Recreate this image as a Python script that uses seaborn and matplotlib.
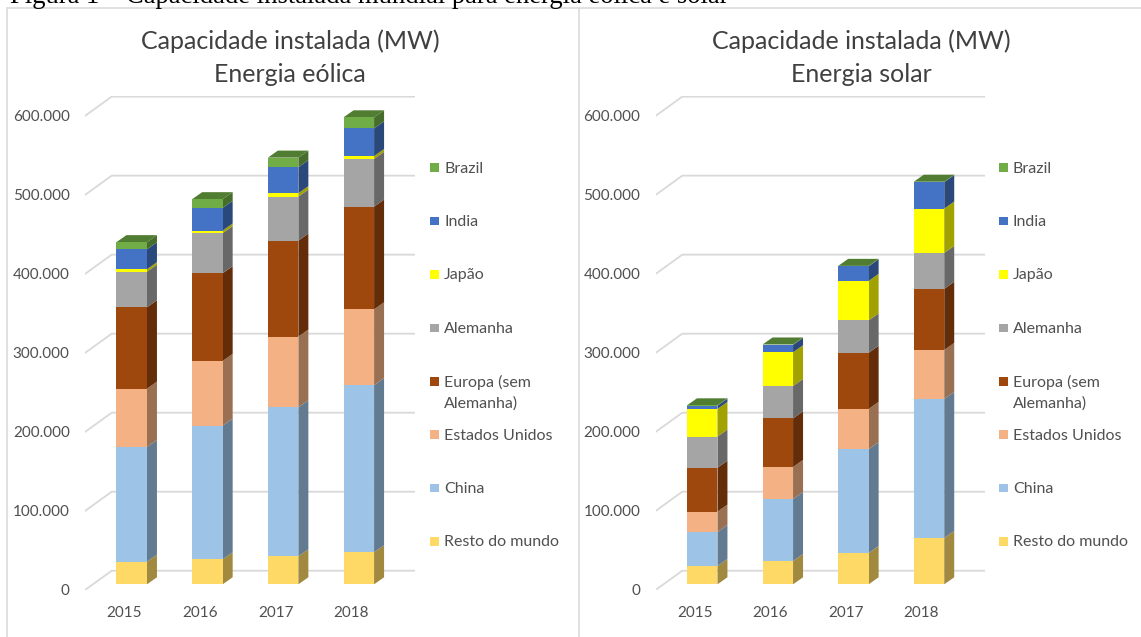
import matplotlib
matplotlib.use('Agg')
import matplotlib.pyplot as plt
import matplotlib.colors as mcolors
from matplotlib.lines import Line2D
from matplotlib.patches import Rectangle, Polygon
from matplotlib.transforms import ScaledTranslation
import numpy as np
import pandas as pd
import seaborn as sns

W, H = 1141, 637

anos = ['2015', '2016', '2017', '2018']
series = ['Resto do mundo', 'China', 'Estados Unidos', 'Europa (sem\nAlemanha)',
          'Alemanha', 'Japão', 'India', 'Brazil']
cores = ['#FFD966', '#9DC3E6', '#F4B183', '#9E480E', '#A5A5A5', '#FFFF00', '#4472C4', '#70AD47']
y_ticks = [0, 100000, 200000, 300000, 400000, 500000, 600000]
y_labels = ['0', '100.000', '200.000', '300.000', '400.000', '500.000', '600.000']

# MW
eolica = {
    'Resto do mundo': [28600, 31600, 35400, 40500],
    'China': [145200, 169200, 188600, 211500],
    'Estados Unidos': [73800, 81900, 89500, 96000],
    'Europa (sem\nAlemanha)': [103000, 111000, 121500, 130000],
    'Alemanha': [45100, 50700, 55700, 60400],
    'Japão': [3100, 3300, 4300, 3600],
    'India': [25200, 28700, 33000, 35000],
    'Brazil': [9000, 11000, 12000, 14000],
}
solar = {
    'Resto do mundo': [23200, 29500, 39600, 58600],
    'China': [43000, 78500, 131400, 176000],
    'Estados Unidos': [25800, 40500, 51000, 62000],
    'Europa (sem\nAlemanha)': [55600, 61500, 71000, 77400],
    'Alemanha': [39400, 41000, 41000, 45400],
    'Japão': [35000, 42700, 50000, 56100],
    'India': [4000, 9300, 18500, 33500],
    'Brazil': [500, 500, 500, 500],
}

sns.set_theme(style='white')
plt.rcParams['font.family'] = ['Lato', 'DejaVu Sans']

fig = plt.figure(figsize=(W / 100, H / 100), dpi=100)
GRID = '#d9d9d9'
TEXTO = '#505050'


def px_text(x, y, s, **kw):
    fig.text(x / W, 1 - y / H, s, **kw)


def draw_panel(dados, left, width, title_x, legend_x, titulo):
    ax = fig.add_axes([left / W, (H - 590) / H, width / W, 494 / H])
    ax.set_facecolor('none')
    df = pd.DataFrame(dados, index=anos)
    acum = np.zeros(len(anos))
    for nome, cor in zip(series, cores):
        sns.barplot(x=anos, y=df[nome].values, bottom=acum, color=cor, saturation=1,
                    width=0.403, ax=ax, zorder=3, linewidth=0)
        acum = acum + df[nome].values

    ax.set_xlim(-0.617, 3.742)
    ax.set_ylim(-7200, 618000)
    dx, dy = 0.132, 8900

    # back wall grid with the diagonal on the floor side
    for v in y_ticks:
        ax.plot([-0.617, -0.264, 3.742], [v - 7200, v + 17200, v + 17200],
                color=GRID, lw=1.3, zorder=1, solid_joinstyle='miter')

    # extrude the seaborn bars to get the 3D look
    barras = list(ax.patches)
    for bar in barras:
        x1 = bar.get_x() + bar.get_width()
        y0, y1 = bar.get_y(), bar.get_y() + bar.get_height()
        lado = np.array(mcolors.to_rgb(bar.get_facecolor())) * 0.63
        ax.add_patch(Polygon([(x1, y0), (x1 + dx, y0 + dy), (x1 + dx, y1 + dy), (x1, y1)],
                             facecolor=lado, edgecolor='none', zorder=2.5))
    topo = np.array(mcolors.to_rgb(cores[-1])) * 0.72
    for i in range(len(anos)):
        x0 = barras[i].get_x()
        x1 = x0 + barras[i].get_width()
        ax.add_patch(Polygon([(x0, acum[i]), (x0 + dx, acum[i] + dy),
                              (x1 + dx, acum[i] + dy), (x1, acum[i])],
                             facecolor=topo, edgecolor='none', zorder=2.6))

    ax.set_xticks(range(len(anos)))
    ax.set_xticklabels(anos)
    ax.set_yticks(y_ticks)
    ax.set_yticklabels(y_labels)
    ax.set_xlabel('')
    ax.set_ylabel('')
    ax.tick_params(axis='x', length=0, pad=11.5, labelsize=11, labelcolor=TEXTO)
    ax.tick_params(axis='y', length=0, pad=11, labelsize=11, labelcolor=TEXTO)
    shift_x = ScaledTranslation(-7.5 / 100, 0, fig.dpi_scale_trans)
    shift_y = ScaledTranslation(0, -5.5 / 100, fig.dpi_scale_trans)
    for t in ax.get_xticklabels():
        t.set_transform(t.get_transform() + shift_x)
    for t in ax.get_yticklabels():
        t.set_transform(t.get_transform() + shift_y)
    sns.despine(ax=ax, left=True, bottom=True)

    px_text(title_x, 41, 'Capacidade instalada (MW)', fontsize=18, color='#404040',
            ha='center', va='center')
    px_text(title_x, 74, titulo, fontsize=18, color='#404040', ha='center', va='center')

    # legend slots are evenly spaced, two-line label hangs below its slot
    for i, (nome, cor) in enumerate(zip(series, cores)):
        yc = 541.5 - i * 53.4
        fig.add_artist(Rectangle((legend_x / W, 1 - (yc + 4.2) / H), 9 / W, 8.5 / H,
                                 transform=fig.transFigure, facecolor=cor, edgecolor='none'))
        px_text(legend_x + 14, yc - 6, nome, fontsize=11.5, color=TEXTO,
                ha='left', va='top', linespacing=1.55)


draw_panel(eolica, 85, 330, 290, 430, 'Energia eólica')
draw_panel(solar, 655.6, 329.5, 861, 999, 'Energia solar')

# panel frame lines
for xs, ys in [((7.4, 1141), (8, 8)), ((7.4, 7.4), (8, 637)), ((579, 579), (8, 637))]:
    fig.add_artist(Line2D([x / W for x in xs], [1 - y / H for y in ys], color=GRID, lw=1.1))

fig.text(10 / W, 1 - 3 / H, 'Figura 1 – Capacidade instalada mundial para energia eólica e solar',
         family='Liberation Serif', fontsize=19.2, color='black', ha='left', va='baseline')

fig.savefig('out.png', dpi=100, facecolor='white')
